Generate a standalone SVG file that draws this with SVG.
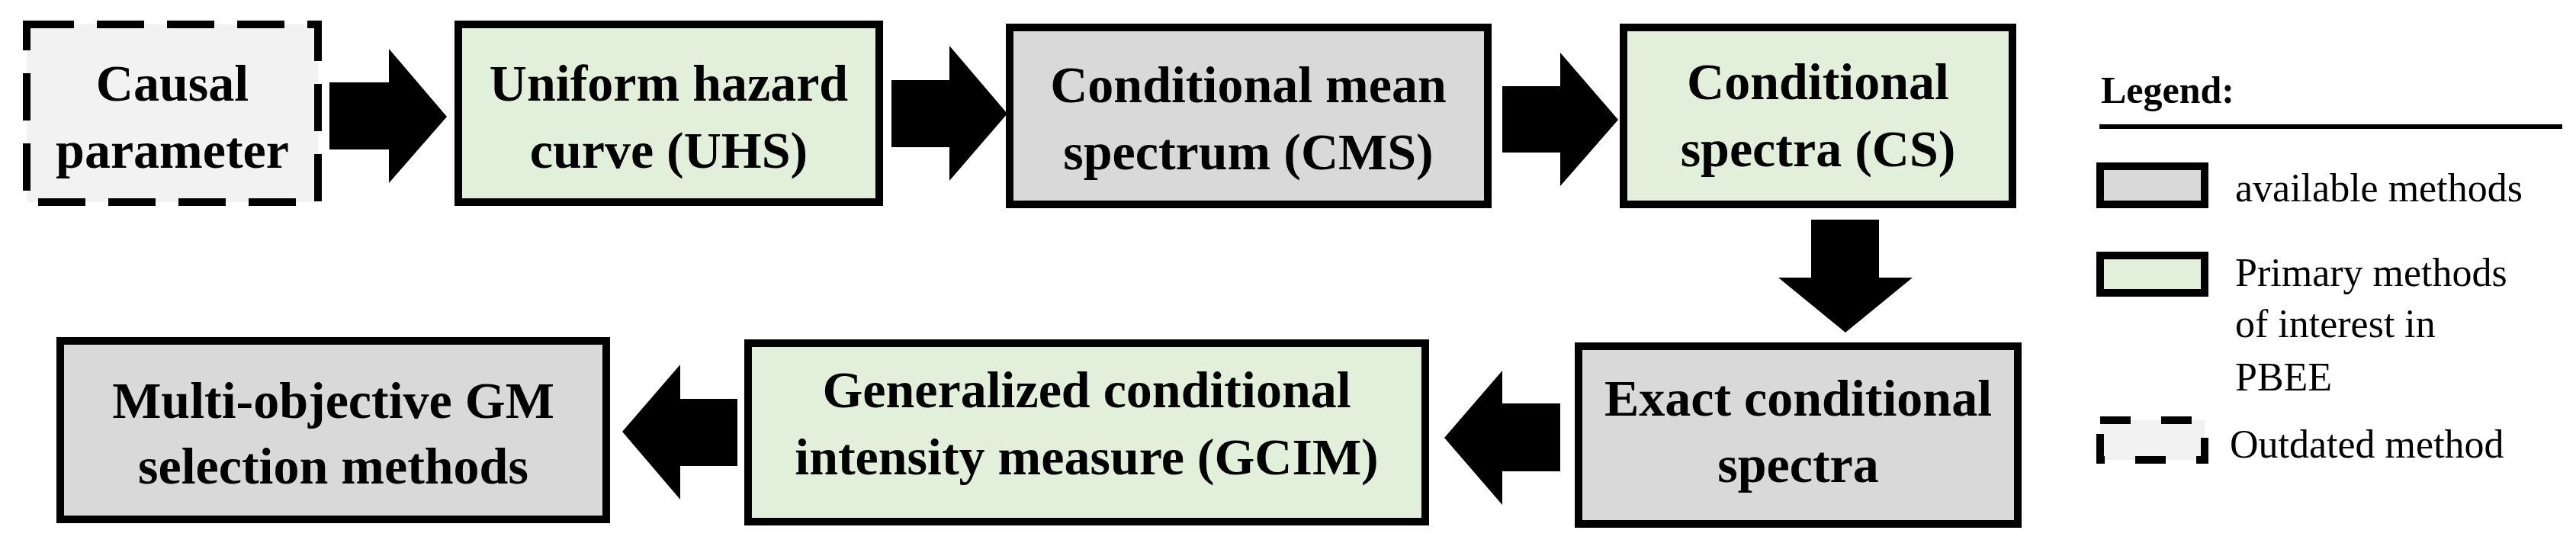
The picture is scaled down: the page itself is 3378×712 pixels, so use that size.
<svg xmlns="http://www.w3.org/2000/svg" width="3378" height="712" viewBox="0 0 3378 712">
<style>
.b{stroke:#000;stroke-width:10}
.g{fill:#d9d9d9}.gr{fill:#e2efda}.o{fill:#f2f2f2;stroke-dasharray:62 30}
.t{font-family:"Liberation Serif",serif;font-weight:bold;font-size:68px;text-anchor:middle}
.l{font-family:"Liberation Serif",serif;font-size:52px}
</style>
<g id="causal"><rect class="b o" x="35" y="32" width="382" height="233"/><text class="t" x="226" y="132">Causal</text><text class="t" x="226" y="220">parameter</text></g>
<g id="uhs"><rect class="b gr" x="601" y="32" width="552" height="233"/><text class="t" x="877" y="132">Uniform hazard</text><text class="t" x="877" y="220">curve (UHS)</text></g>
<g id="cms"><rect class="b g" x="1324" y="36" width="627" height="232"/><text class="t" x="1637" y="134">Conditional mean</text><text class="t" x="1637" y="222">spectrum (CMS)</text></g>
<g id="cs"><rect class="b gr" x="2129" y="36" width="510" height="232"/><text class="t" x="2384" y="130">Conditional</text><text class="t" x="2384" y="218">spectra (CS)</text></g>
<g id="exact"><rect class="b g" x="2070" y="454" width="576" height="233"/><text class="t" x="2358" y="545">Exact conditional</text><text class="t" x="2358" y="632">spectra</text></g>
<g id="gcim"><rect class="b gr" x="981" y="450" width="888" height="234"/><text class="t" x="1425" y="534">Generalized conditional</text><text class="t" x="1425" y="622">intensity measure (GCIM)</text></g>
<g id="multi"><rect class="b g" x="79" y="447" width="716" height="234"/><text class="t" x="437" y="548">Multi-objective GM</text><text class="t" x="437" y="634">selection methods</text></g>
<g id="connectors">
<polygon points="432,108 510,108 510,64 586,153 510,240 510,196 432,196"/>
<polygon points="1169,105 1245,105 1245,60 1321,149 1245,237 1245,193 1169,193"/>
<polygon points="1970,113 2046,113 2046,69 2122,157 2046,244 2046,200 1970,200"/>
<polygon points="2375,288 2464,288 2464,364 2508,364 2420,436 2332,364 2375,364"/>
<polygon points="2046,529 1970,529 1970,486 1894,574 1970,662 1970,618 2046,618"/>
<polygon points="967,523 892,523 892,478 816,566 892,655 892,611 967,611"/>
</g>
<g id="legend">
<text x="2755" y="135" style="font-family:'Liberation Serif',serif;font-weight:bold;font-size:50px">Legend:</text>
<line x1="2753" y1="166" x2="3360" y2="166" stroke="#000" stroke-width="6"/>
<rect class="b g" x="2754" y="218" width="137" height="50"/><text class="l" x="2931" y="264">available methods</text>
<rect class="b gr" x="2754" y="335" width="137" height="49"/><text class="l" x="2931" y="375">Primary methods</text><text class="l" x="2931" y="442">of interest in</text><text class="l" x="2931" y="512">PBEE</text>
<rect class="b" fill="#f2f2f2" x="2754" y="551" width="137" height="52" stroke-dasharray="40 40"/><text class="l" x="2924" y="600">Outdated method</text>
</g>
</svg>
